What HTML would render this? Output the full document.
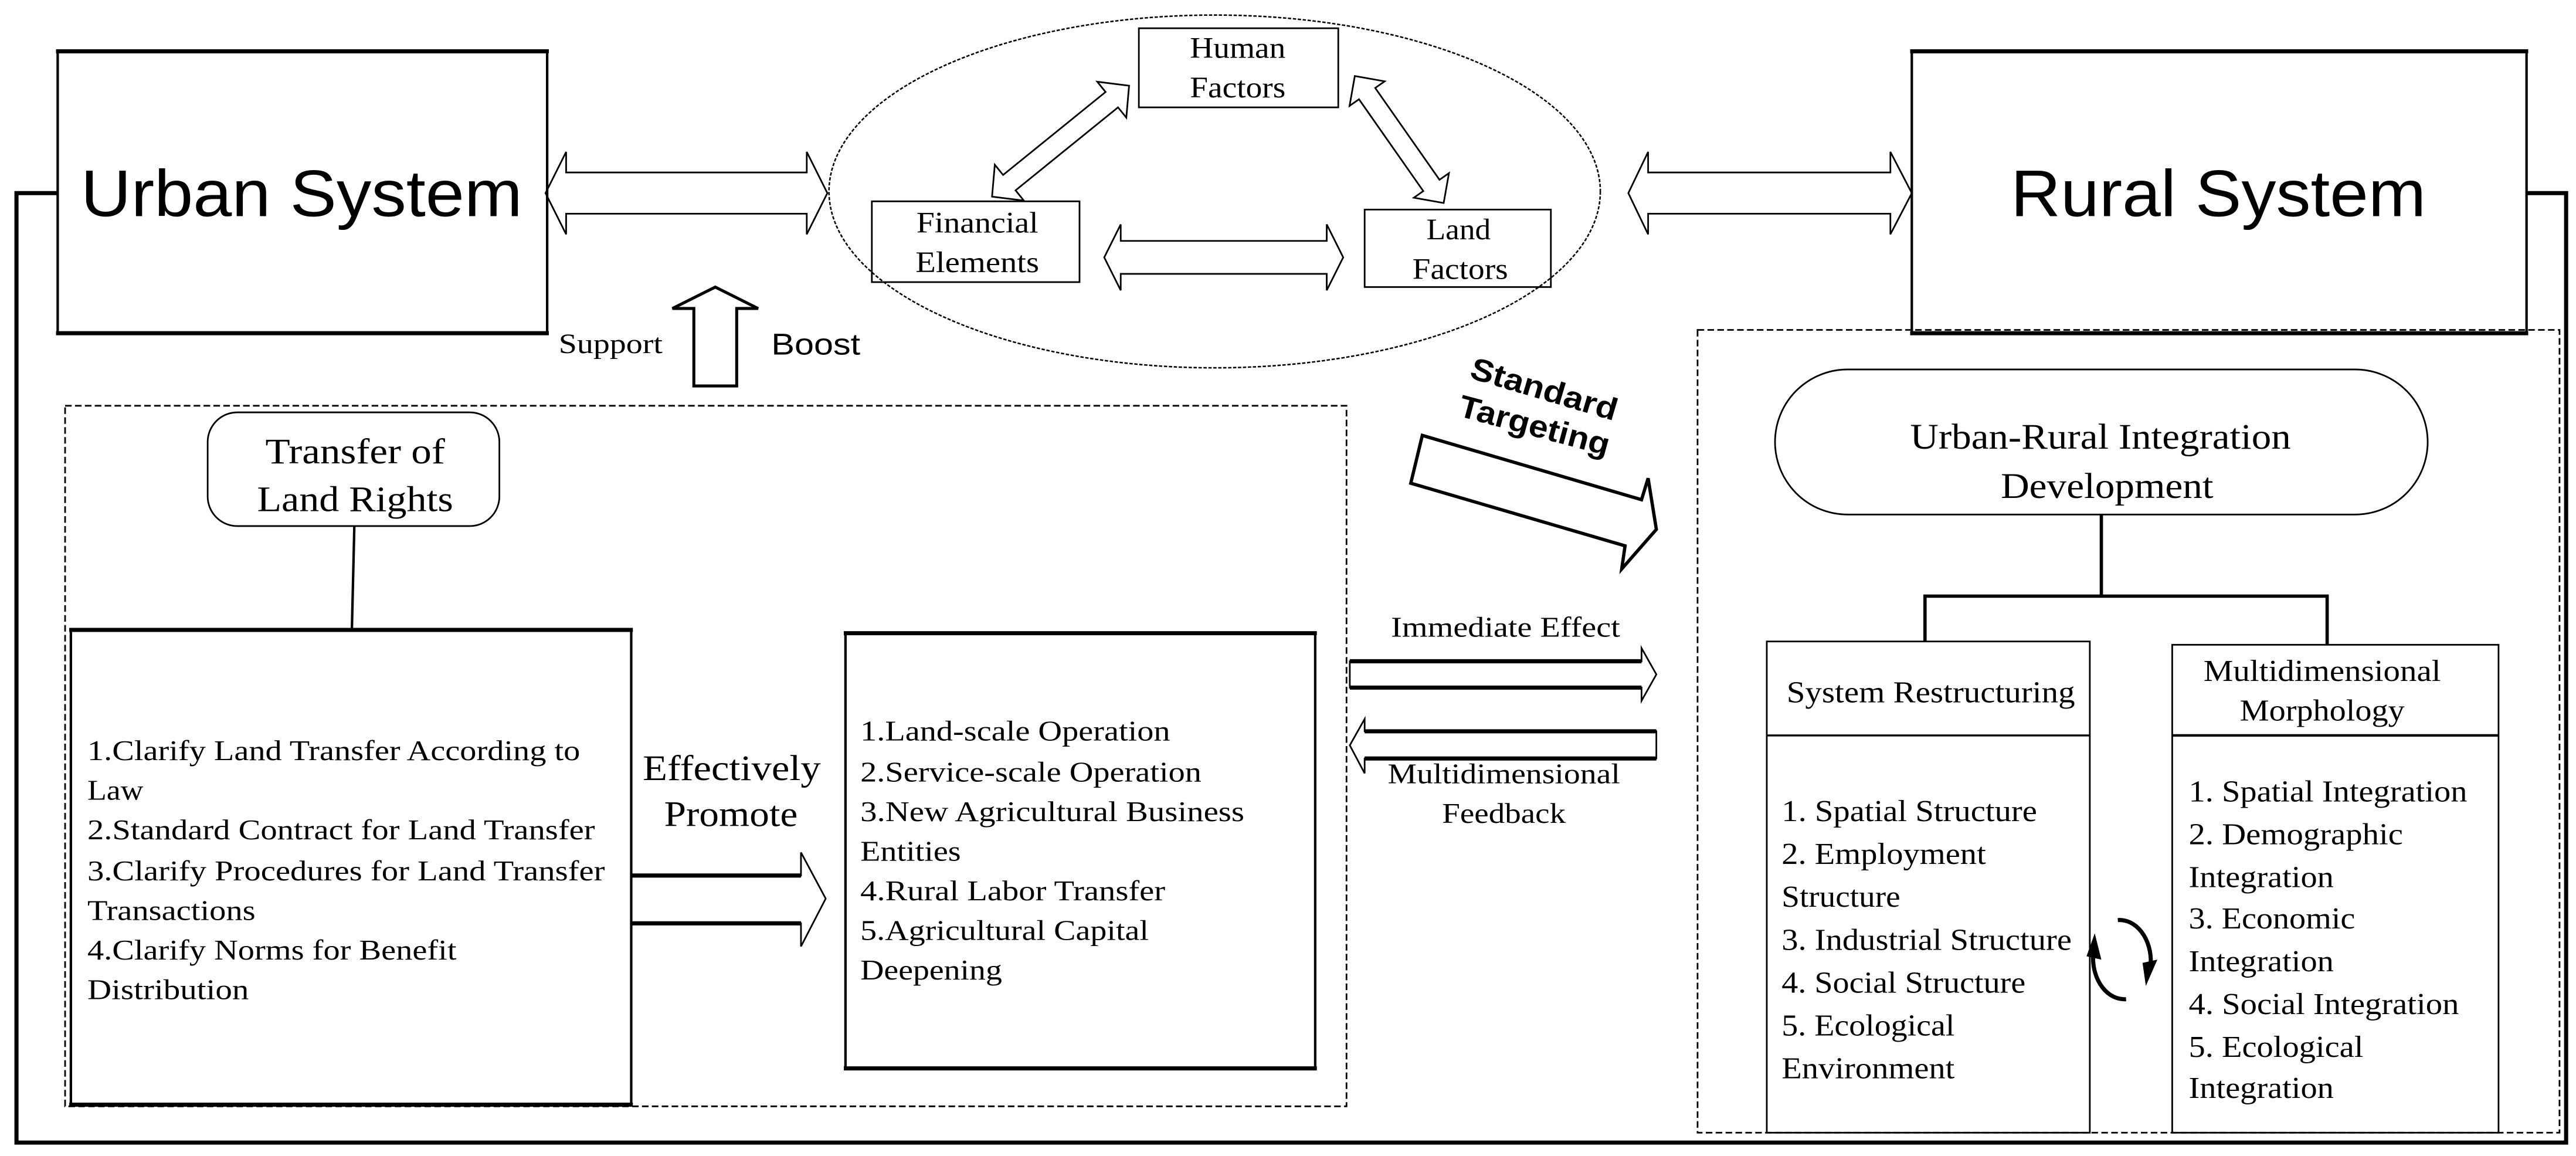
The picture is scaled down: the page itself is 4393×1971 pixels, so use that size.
<!DOCTYPE html>
<html><head><meta charset="utf-8"><style>
html,body{margin:0;padding:0;background:#fff;}
svg{display:block;}
.s{font-family:"Liberation Serif",serif;}
.a{font-family:"Liberation Sans",sans-serif;}
</style></head><body>
<svg width="4393" height="1971" viewBox="0 0 1563 701" xmlns="http://www.w3.org/2000/svg">
<g fill="none" stroke="#000">
<path d="M35,117 H10 V693 H1557 V117 H1533" stroke-width="2.5"/>
<rect x="35" y="31" width="297" height="171" stroke-width="1.5"/>
<line x1="34" y1="31" x2="333" y2="31" stroke-width="2.5"/>
<line x1="34" y1="202" x2="333" y2="202" stroke-width="2.5"/>
<rect x="1160" y="31" width="373" height="171" stroke-width="1.5"/>
<line x1="1159" y1="31" x2="1534" y2="31" stroke-width="2.5"/>
<line x1="1159" y1="202" x2="1534" y2="202" stroke-width="2.5"/>
<ellipse cx="737" cy="116" rx="234" ry="107" stroke-width="0.9" stroke-dasharray="2 1"/>
<rect x="691" y="17" width="121" height="48" stroke-width="1"/>
<rect x="529" y="122" width="126" height="49" stroke-width="1"/>
<rect x="828" y="127" width="113" height="47" stroke-width="1"/>
<polygon stroke-width="1" points="331,117 343.5,92 343.5,104.5 489.5,104.5 489.5,92 502,117 489.5,142 489.5,129.5 343.5,129.5 343.5,142"/>
<polygon stroke-width="1" points="988,117 1000,92 1000,104.5 1147,104.5 1147,92 1160,117 1147,142 1147,129.5 1000,129.5 1000,142"/>
<polygon stroke-width="1" points="670,156 680,136 680,146 805,146 805,136 815,156 805,176 805,166 680,166 680,176"/>
<g transform="translate(643.5,85.5) rotate(-39)"><polygon stroke-width="1" points="-53.5,0 -40,-14 -40,-6 40,-6 40,-14 53.5,0 40,14 40,6 -40,6 -40,14"/></g>
<g transform="translate(849,84.5) rotate(55)"><polygon stroke-width="1" points="-47,0 -34,-13 -34,-6 34,-6 34,-13 47,0 34,13 34,6 -34,6 -34,13"/></g>
<polygon stroke-width="1.8" points="421,234 421,187 408,187 434,174 460,187 447,187 447,234"/>
<rect x="39.5" y="246" width="777.5" height="425" stroke-width="1" stroke-dasharray="4 2"/>
<rect x="126" y="250" width="177" height="69" rx="18" stroke-width="1"/>
<line x1="215" y1="319" x2="213.5" y2="382" stroke-width="1.5"/>
<rect x="43" y="382" width="340" height="288" stroke-width="1.5"/>
<line x1="42" y1="382" x2="384" y2="382" stroke-width="2.5"/>
<line x1="42" y1="670" x2="384" y2="670" stroke-width="2.5"/>
<rect x="513" y="384" width="285" height="264" stroke-width="1.5"/>
<line x1="512" y1="384" x2="799" y2="384" stroke-width="2.5"/>
<line x1="512" y1="648" x2="799" y2="648" stroke-width="2.5"/>
<path d="M383.5,531 H486 V517 L501,545 L486,574 V560 H383.5" stroke-width="1"/>
<line x1="383.5" y1="531" x2="486" y2="531" stroke-width="2.5"/>
<line x1="383.5" y1="560" x2="486" y2="560" stroke-width="2.5"/>
<polygon stroke-width="1" points="819,401 996,401 996,393 1005,409 996,425 996,417 819,417"/>
<line x1="819" y1="401" x2="996" y2="401" stroke-width="2.5"/>
<line x1="819" y1="417" x2="996" y2="417" stroke-width="2.5"/>
<polygon stroke-width="1" points="1005,443.5 828,443.5 828,436 819,452 828,469 828,460 1005,460"/>
<line x1="828" y1="443.5" x2="1005" y2="443.5" stroke-width="2.5"/>
<line x1="828" y1="460" x2="1005" y2="460" stroke-width="2.5"/>
<polygon stroke-width="2" points="863,264 996,303 1000,290 1005,321 984,345 986,331 856,293"/>
<rect x="1030" y="200" width="523" height="487" stroke-width="1" stroke-dasharray="4 2"/>
<rect x="1077" y="224" width="396" height="88" rx="44" stroke-width="1"/>
<path d="M1275,312 V361 M1168,389 V361.5 H1412 V391" stroke-width="2"/>
<rect x="1072" y="389" width="196" height="298" stroke-width="1"/>
<line x1="1072" y1="446" x2="1268" y2="446" stroke-width="1.2"/>
<rect x="1318" y="391" width="198" height="296" stroke-width="1"/>
<line x1="1318" y1="446" x2="1516" y2="446" stroke-width="1.5"/>
<path d="M1285,558 A19,25 0 0 1 1305,584" stroke-width="2.5"/>
<path d="M1290,606 A19,25 0 0 1 1270,580" stroke-width="2.5"/>
</g>
<polygon points="1300,584 1309,582 1302,598" fill="#000"/>
<polygon points="1266,580 1275,582 1271,566" fill="#000"/>

<g fill="#000">
<text class="a" x="49" y="131" font-size="40" textLength="268" lengthAdjust="spacingAndGlyphs">Urban System</text>
<text class="a" x="1220" y="131" font-size="40" textLength="252" lengthAdjust="spacingAndGlyphs">Rural System</text>
<g class="s" font-size="18" text-anchor="middle">
<text x="751" y="35" textLength="58" lengthAdjust="spacingAndGlyphs">Human</text>
<text x="751" y="59" textLength="58" lengthAdjust="spacingAndGlyphs">Factors</text>
<text x="593" y="141" textLength="74" lengthAdjust="spacingAndGlyphs">Financial</text>
<text x="593" y="165" textLength="75" lengthAdjust="spacingAndGlyphs">Elements</text>
<text x="885" y="145" textLength="39" lengthAdjust="spacingAndGlyphs">Land</text>
<text x="886" y="169" textLength="58" lengthAdjust="spacingAndGlyphs">Factors</text>
</g>
<text class="s" x="339" y="214" font-size="17" textLength="63" lengthAdjust="spacingAndGlyphs">Support</text>
<text class="a" x="468" y="215" font-size="18" textLength="54" lengthAdjust="spacingAndGlyphs">Boost</text>
<text class="a" font-weight="bold" font-size="19" transform="translate(891,229) rotate(16.5)" textLength="92" lengthAdjust="spacingAndGlyphs">Standard</text>
<text class="a" font-weight="bold" font-size="19" transform="translate(884,252) rotate(15)" textLength="94" lengthAdjust="spacingAndGlyphs">Targeting</text>

<g class="s" font-size="22">
<text x="161" y="281" textLength="109" lengthAdjust="spacingAndGlyphs">Transfer of</text>
<text x="156" y="310" textLength="119" lengthAdjust="spacingAndGlyphs">Land Rights</text>
<text x="390" y="473" textLength="108" lengthAdjust="spacingAndGlyphs">Effectively</text>
<text x="403" y="501" textLength="81" lengthAdjust="spacingAndGlyphs">Promote</text>
<text x="1159" y="272" textLength="231" lengthAdjust="spacingAndGlyphs">Urban-Rural Integration</text>
<text x="1214" y="302" textLength="129" lengthAdjust="spacingAndGlyphs">Development</text>
</g>

<g class="s" font-size="17.5">
<text x="53" y="461" textLength="299" lengthAdjust="spacingAndGlyphs">1.Clarify Land Transfer According to</text>
<text x="53" y="485" textLength="34" lengthAdjust="spacingAndGlyphs">Law</text>
<text x="53" y="509" textLength="308" lengthAdjust="spacingAndGlyphs">2.Standard Contract for Land Transfer</text>
<text x="53" y="534" textLength="314" lengthAdjust="spacingAndGlyphs">3.Clarify Procedures for Land Transfer</text>
<text x="53" y="558" textLength="102" lengthAdjust="spacingAndGlyphs">Transactions</text>
<text x="53" y="582" textLength="224" lengthAdjust="spacingAndGlyphs">4.Clarify Norms for Benefit</text>
<text x="53" y="606" textLength="98" lengthAdjust="spacingAndGlyphs">Distribution</text>

<text x="522" y="449" textLength="188" lengthAdjust="spacingAndGlyphs">1.Land-scale Operation</text>
<text x="522" y="474" textLength="207" lengthAdjust="spacingAndGlyphs">2.Service-scale Operation</text>
<text x="522" y="498" textLength="233" lengthAdjust="spacingAndGlyphs">3.New Agricultural Business</text>
<text x="522" y="522" textLength="61" lengthAdjust="spacingAndGlyphs">Entities</text>
<text x="522" y="546" textLength="185" lengthAdjust="spacingAndGlyphs">4.Rural Labor Transfer</text>
<text x="522" y="570" textLength="175" lengthAdjust="spacingAndGlyphs">5.Agricultural Capital</text>
<text x="522" y="594" textLength="86" lengthAdjust="spacingAndGlyphs">Deepening</text>

<text x="844" y="386" textLength="139" lengthAdjust="spacingAndGlyphs">Immediate Effect</text>
<text x="842" y="475" textLength="141" lengthAdjust="spacingAndGlyphs">Multidimensional</text>
<text x="875" y="499" textLength="75" lengthAdjust="spacingAndGlyphs">Feedback</text>
</g>

<g class="s" font-size="18.5">
<text x="1084" y="426" textLength="175" lengthAdjust="spacingAndGlyphs">System Restructuring</text>
<text x="1337" y="413" textLength="144" lengthAdjust="spacingAndGlyphs">Multidimensional</text>
<text x="1359" y="437" textLength="100" lengthAdjust="spacingAndGlyphs">Morphology</text>

<text x="1081" y="498" textLength="155" lengthAdjust="spacingAndGlyphs">1. Spatial Structure</text>
<text x="1081" y="524" textLength="124" lengthAdjust="spacingAndGlyphs">2. Employment</text>
<text x="1081" y="550" textLength="72" lengthAdjust="spacingAndGlyphs">Structure</text>
<text x="1081" y="576" textLength="176" lengthAdjust="spacingAndGlyphs">3. Industrial Structure</text>
<text x="1081" y="602" textLength="148" lengthAdjust="spacingAndGlyphs">4. Social Structure</text>
<text x="1081" y="628" textLength="105" lengthAdjust="spacingAndGlyphs">5. Ecological</text>
<text x="1081" y="654" textLength="105" lengthAdjust="spacingAndGlyphs">Environment</text>

<text x="1328" y="486" textLength="169" lengthAdjust="spacingAndGlyphs">1. Spatial Integration</text>
<text x="1328" y="512" textLength="130" lengthAdjust="spacingAndGlyphs">2. Demographic</text>
<text x="1328" y="538" textLength="88" lengthAdjust="spacingAndGlyphs">Integration</text>
<text x="1328" y="563" textLength="101" lengthAdjust="spacingAndGlyphs">3. Economic</text>
<text x="1328" y="589" textLength="88" lengthAdjust="spacingAndGlyphs">Integration</text>
<text x="1328" y="615" textLength="164" lengthAdjust="spacingAndGlyphs">4. Social Integration</text>
<text x="1328" y="641" textLength="106" lengthAdjust="spacingAndGlyphs">5. Ecological</text>
<text x="1328" y="666" textLength="88" lengthAdjust="spacingAndGlyphs">Integration</text>
</g>
</g>
</svg>
</body></html>
